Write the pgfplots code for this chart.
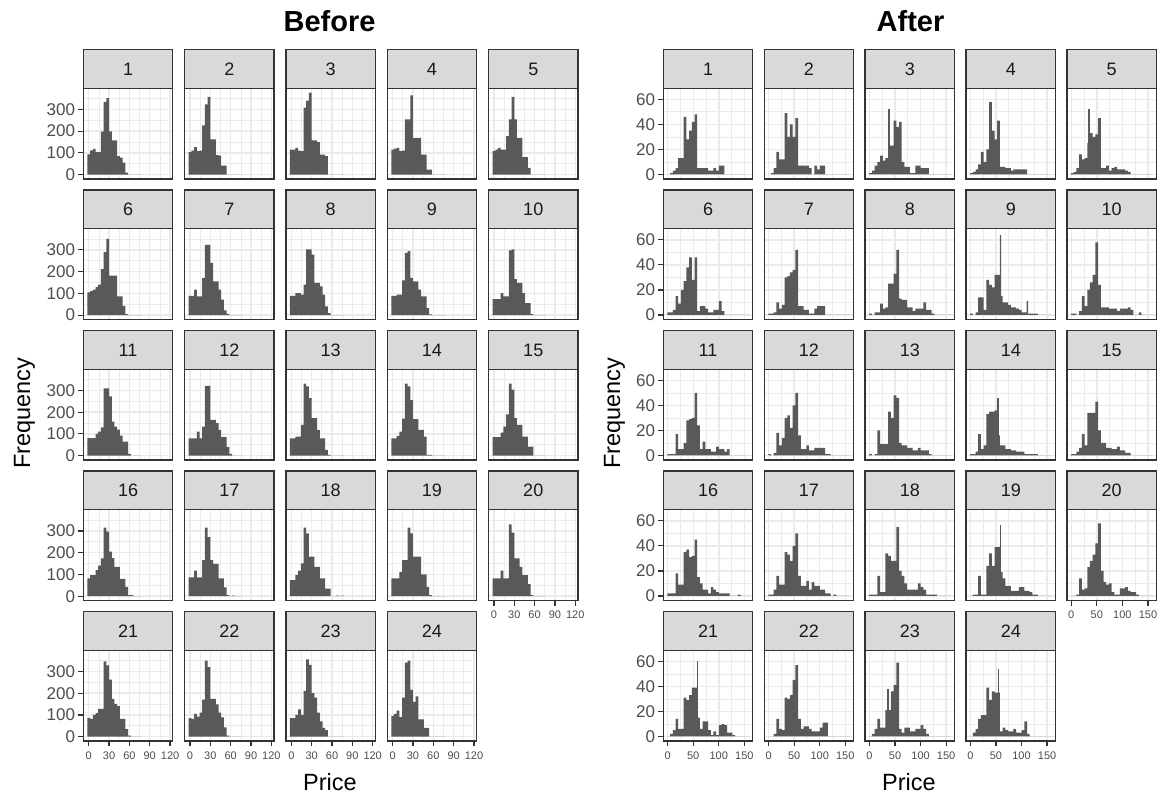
\documentclass[border=0pt]{standalone}
\usepackage{fontspec}
\setmainfont{Liberation Sans}
\usepackage{pgfplots}
\usepackage{pgfplotstable}
\pgfplotsset{compat=1.18}
\definecolor{barc}{HTML}{595959}
\definecolor{gridc}{HTML}{EBEBEB}
\definecolor{framec}{HTML}{333333}
\definecolor{stripc}{HTML}{D9D9D9}
\definecolor{tickc}{HTML}{4D4D4D}
\definecolor{stript}{HTML}{1A1A1A}

\pgfplotstableread{
edge p1 p2 p3 p4 p5 p6 p7 p8 p9 p10 p11 p12 p13 p14 p15 p16 p17 p18 p19 p20 p21 p22 p23 p24
-2 93 103 115 115 108 105 89 89 89 74 80 80 80 80 85 82 86 74 82 82 86 85 85 95
2 112 110 115 120 115 110 89 89 89 74 80 80 80 80 85 97 86 74 82 82 82 82 85 105
6 118 126 123 123 123 117 117 101 94 74 80 80 88 91 85 97 117 97 82 82 100 105 100 120
10 105 108 110 108 115 129 86 101 94 101 100 111 88 111 106 120 86 117 112 117 108 92 125 90
14 103 110 108 110 115 140 86 94 160 86 111 80 142 170 134 140 86 151 166 82 128 110 100 180
18 198 226 308 254 177 212 171 140 286 86 130 134 331 331 190 174 166 315 166 82 128 170 210 340
22 334 323 340 254 254 290 323 302 294 298 309 321 318 318 331 315 315 289 315 330 346 350 355 350
26 352 358 377 365 358 351 323 302 171 302 309 321 265 255 303 297 271 182 289 292 328 320 330 215
30 199 162 158 169 254 182 240 278 155 166 272 165 172 168 172 205 166 182 182 174 262 174 200 160
34 158 162 158 169 169 182 155 148 155 148 157 165 172 168 142 175 148 135 182 174 174 174 180 185
38 158 90 150 169 169 182 155 148 117 148 134 150 118 118 142 135 148 135 182 135 151 148 110 80
42 85 88 92 92 80 86 117 132 86 101 120 118 80 118 88 135 82 82 100 97 140 110 70 80
46 78 42 92 92 80 86 71 94 86 55 92 85 80 88 88 80 82 82 100 97 82 89 40 40
50 55 42 85 23 31 43 22 40 32 55 65 85 26 3 42 80 40 35 43 55 82 43 30 40
54 9 0 0 23 0 5 6 9 3 5 65 40 3 3 42 43 5 35 5 5 35 5 0 0
58 0 0 0 0 0 0 0 0 0 0 8 8 0 0 0 5 0 0 0 0 5 0 0 0
62 0 0 0 0 0 0 0 0 0 0 0 0 0 0 0 5 3 0 0 0 0 0 0 0
66 0 0 0 0 0 0 0 0 0 0 0 0 0 0 0 0 0 3 0 0 0 0 0 0
70 0 0 0 0 0 0 0 0 0 0 0 0 0 0 0 0 0 0 0 0 0 0 0 0
74 0 0 0 0 0 0 0 0 0 0 0 0 0 0 0 0 0 3 0 0 0 0 0 0
78 0 0 0 0 0 0 0 0 0 0 0 0 0 0 0 0 0 0 0 0 0 0 0 0
}\tblB

\pgfplotstableread{
edge a1 a2 a3 a4 a5 a6 a7 a8 a9 a10 a11 a12 a13 a14 a15 a16 a17 a18 a19 a20 a21 a22 a23 a24
-0.5 0 0 1 1 1 2 1 1 1 1 1 1 1 1 1 2 1 1 0 0 0 0 0 0
4.8 1 1 3 2 2 2 1 0 0 1 1 0 0 1 1 2 1 1 1 0 2 0 2 3
10.1 3 5 7 4 5 4 2 2 2 0 1 2 1 3 3 2 5 1 1 1 5 2 6 6
15.4 5 18 10 8 16 15 10 2 14 3 17 18 20 17 6 18 16 16 16 14 14 14 14 14
20.7 13 12 15 18 12 9 5 9 14 15 5 8 9 5 17 9 9 3 1 5 6 6 7 17
26.0 13 12 11 10 13 20 8 5 4 7 5 14 9 8 8 9 9 3 1 6 6 5 7 17
31.3 46 49 13 20 25 27 30 6 28 20 10 30 9 33 34 35 35 34 24 23 31 31 21 39
36.6 28 30 23 58 33 38 31 25 24 26 28 32 35 35 34 37 33 32 34 28 29 30 21 29
41.9 35 40 23 35 30 46 34 25 22 32 29 22 30 35 34 31 28 28 24 33 33 33 36 36
47.2 42 30 43 28 32 28 36 33 32 58 30 40 48 36 43 32 40 28 39 42 39 45 41 35
52.5 48 45 38 43 45 46 52 52 32 24 50 50 46 16 20 45 50 55 39 58 39 57 59 35
57.8 5 7 42 6 5 3 7 13 15 6 24 16 10 8 10 15 16 20 19 20 15 14 6 4
63.1 5 7 10 6 5 7 7 12 10 6 5 5 8 8 10 10 8 16 14 11 6 6 3 7
68.4 5 7 6 5 7 7 4 12 10 6 11 5 8 5 6 5 8 10 8 9 12 8 7 5
73.7 5 7 6 5 3 5 4 6 8 5 5 8 6 5 6 5 12 5 8 10 12 8 7 4
79.0 3 5 1 3 5 2 1 6 6 5 5 4 6 4 5 2 5 5 4 3 5 6 4 4
84.3 3 0 1 4 6 2 1 3 6 5 3 4 4 4 5 7 11 5 4 1 1 4 4 6
89.6 5 7 7 4 4 4 5 5 5 3 3 6 4 3 7 5 8 5 4 1 4 4 6 3
94.9 3 4 7 4 4 4 7 5 4 5 7 6 6 3 4 3 8 10 7 6 1 4 6 3
100.2 7 7 5 4 4 11 7 5 2 5 5 6 4 3 4 2 5 7 7 6 9 7 9 5
105.5 7 7 5 4 3 3 7 10 2 5 5 6 4 1 2 2 5 5 4 7 10 11 6 12
110.8 0 0 5 0 2 0 0 4 1 6 3 1 4 1 2 2 2 1 4 4 9 11 2 2
116.1 0 0 0 0 0 0 0 4 1 4 5 1 1 1 0 2 2 1 3 3 3 0 0 0
121.4 0 0 0 0 0 0 0 1 1 0 0 0 0 1 0 0 0 1 1 3 3 0 0 0
126.7 0 0 0 0 0 0 0 0 1 0 0 0 0 1 0 0 1 1 1 1 1 0 0 0
132.0 0 0 0 0 0 0 0 0 0 2 0 0 0 0 0 0 0 0 0 0 0 0 0 0
137.3 0 0 0 0 0 0 0 0 0 0 0 0 0 0 0 1 0 0 0 0 0 0 0 0
142.6 0 0 0 0 0 0 0 0 0 0 0 0 0 0 0 0 0 0 0 0 0 0 0 0
147.9 0 0 0 0 0 0 0 0 0 0 0 0 0 0 0 0 0 0 0 0 0 0 0 0
153.2 0 0 0 0 0 0 0 0 0 0 0 0 0 0 0 0 0 0 0 0 0 0 0 0
158.5 0 0 0 0 0 0 0 0 0 0 0 0 0 0 0 0 0 0 0 0 0 0 0 0
}\tblA

\pgfplotsset{
  common/.style={scale only axis, width=89.5pt, height=90.7pt,
    axis line style={draw=framec, line width=1.3pt},
    grid=both,
    major grid style={draw=gridc, line width=1.4pt},
    minor grid style={draw=gridc, line width=0.7pt},
    tick style={draw=framec, line width=1.2pt},
    major tick length=5pt, minor tick length=0pt,
    tick align=outside, tick pos=left,
    /pgf/number format/assume math mode=true,
    x tick label style={font=\fontsize{11}{12}\selectfont, text=tickc, inner sep=2pt, yshift=-3.5pt},
    y tick label style={font=\fontsize{17}{18}\selectfont, text=tickc, inner sep=3pt},
  },
  bef/.style={common, xmin=-8, xmax=124, ymin=-20, ymax=397,
    xtick={0,30,60,90,120}, minor xtick={15,45,75,105},
    ytick={0,100,200,300}, minor ytick={50,150,250,350}},
  aft/.style={common, xmin=-8.5, xmax=166.5, ymin=-3.6, ymax=68.8,
    xtick={0,50,100,150}, minor xtick={25,75,125},
    ytick={0,20,40,60}, minor ytick={10,30,50}},
  hx/.style={xmajorticks=false, xticklabels={}},
  hy/.style={ymajorticks=false, yticklabels={}},
  hist/.style={ybar interval, fill=barc, draw=none},
  spike/.style={ybar, bar width=2.6, fill=barc, draw=none},
}

% #1 style, #2 table, #3 left, #4 top, #5 label, #6 column, #7 opts, #8 extra plots
\newcommand{\pan}[8]{%
  \begin{axis}[#1, at={(#3pt,-#4pt)}, anchor=north west, #7]
    \addplot[hist] table[x=edge, y=#6] {#2};
    #8
  \end{axis}
  \draw[draw=framec, line width=1.3pt] (#3pt,-#4pt) rectangle ({(#3+89.5)*1pt},{-(#4+90.7)*1pt});
  \draw[fill=stripc, draw=framec, line width=1.3pt] (#3pt,-#4pt) rectangle ({(#3+89.5)*1pt},{-(#4-38.8)*1pt});
  \node[font=\fontsize{18}{20}\selectfont, text=stript] at ({(#3+44.75)*1pt},{-(#4-19.4)*1pt}) {#5};
}

\begin{document}
\begin{tikzpicture}
\path[use as bounding box] (0pt,0pt) rectangle (1161pt,-794pt);

% ---------------- Before ----------------
\pan{bef}{\tblB}{83.3}{88.3}{1}{p1}{hx}{}
\pan{bef}{\tblB}{184.6}{88.3}{2}{p2}{hx,hy}{}
\pan{bef}{\tblB}{285.9}{88.3}{3}{p3}{hx,hy}{}
\pan{bef}{\tblB}{387.2}{88.3}{4}{p4}{hx,hy}{}
\pan{bef}{\tblB}{488.5}{88.3}{5}{p5}{hx,hy}{}

\pan{bef}{\tblB}{83.3}{228.8}{6}{p6}{hx}{}
\pan{bef}{\tblB}{184.6}{228.8}{7}{p7}{hx,hy}{}
\pan{bef}{\tblB}{285.9}{228.8}{8}{p8}{hx,hy}{}
\pan{bef}{\tblB}{387.2}{228.8}{9}{p9}{hx,hy}{}
\pan{bef}{\tblB}{488.5}{228.8}{10}{p10}{hx,hy}{}

\pan{bef}{\tblB}{83.3}{369.3}{11}{p11}{hx}{}
\pan{bef}{\tblB}{184.6}{369.3}{12}{p12}{hx,hy}{}
\pan{bef}{\tblB}{285.9}{369.3}{13}{p13}{hx,hy}{}
\pan{bef}{\tblB}{387.2}{369.3}{14}{p14}{hx,hy}{}
\pan{bef}{\tblB}{488.5}{369.3}{15}{p15}{hx,hy}{}

\pan{bef}{\tblB}{83.3}{509.8}{16}{p16}{hx}{}
\pan{bef}{\tblB}{184.6}{509.8}{17}{p17}{hx,hy}{}
\pan{bef}{\tblB}{285.9}{509.8}{18}{p18}{hx,hy}{}
\pan{bef}{\tblB}{387.2}{509.8}{19}{p19}{hx,hy}{}
\pan{bef}{\tblB}{488.5}{509.8}{20}{p20}{hy}{}

\pan{bef}{\tblB}{83.3}{650.3}{21}{p21}{}{}
\pan{bef}{\tblB}{184.6}{650.3}{22}{p22}{hy}{}
\pan{bef}{\tblB}{285.9}{650.3}{23}{p23}{hy}{}
\pan{bef}{\tblB}{387.2}{650.3}{24}{p24}{hy}{}

% ---------------- After ----------------
\pan{aft}{\tblA}{663.3}{88.3}{1}{a1}{hx}{}
\pan{aft}{\tblA}{764.2}{88.3}{2}{a2}{hx,hy}{}
\pan{aft}{\tblA}{865.1}{88.3}{3}{a3}{hx,hy}{\addplot[spike] coordinates {(38,52)};}
\pan{aft}{\tblA}{966.0}{88.3}{4}{a4}{hx,hy}{}
\pan{aft}{\tblA}{1066.9}{88.3}{5}{a5}{hx,hy}{\addplot[spike] coordinates {(34.5,52)};}

\pan{aft}{\tblA}{663.3}{228.8}{6}{a6}{hx}{}
\pan{aft}{\tblA}{764.2}{228.8}{7}{a7}{hx,hy}{}
\pan{aft}{\tblA}{865.1}{228.8}{8}{a8}{hx,hy}{}
\pan{aft}{\tblA}{966.0}{228.8}{9}{a9}{hx,hy}{\addplot[spike] coordinates {(59,64) (111.5,11)};}
\pan{aft}{\tblA}{1066.9}{228.8}{10}{a10}{hx,hy}{}

\pan{aft}{\tblA}{663.3}{369.3}{11}{a11}{hx}{}
\pan{aft}{\tblA}{764.2}{369.3}{12}{a12}{hx,hy}{}
\pan{aft}{\tblA}{865.1}{369.3}{13}{a13}{hx,hy}{}
\pan{aft}{\tblA}{966.0}{369.3}{14}{a14}{hx,hy}{\addplot[spike] coordinates {(54,46)};}
\pan{aft}{\tblA}{1066.9}{369.3}{15}{a15}{hx,hy}{}

\pan{aft}{\tblA}{663.3}{509.8}{16}{a16}{hx}{}
\pan{aft}{\tblA}{764.2}{509.8}{17}{a17}{hx,hy}{}
\pan{aft}{\tblA}{865.1}{509.8}{18}{a18}{hx,hy}{}
\pan{aft}{\tblA}{966.0}{509.8}{19}{a19}{hx,hy}{\addplot[spike] coordinates {(59.3,57)};}
\pan{aft}{\tblA}{1066.9}{509.8}{20}{a20}{hy}{}

\pan{aft}{\tblA}{663.3}{650.3}{21}{a21}{}{\addplot[spike] coordinates {(57.8,60)};}
\pan{aft}{\tblA}{764.2}{650.3}{22}{a22}{hy}{}
\pan{aft}{\tblA}{865.1}{650.3}{23}{a23}{hy}{\addplot[spike] coordinates {(36.5,38)};}
\pan{aft}{\tblA}{966.0}{650.3}{24}{a24}{hy}{\addplot[spike] coordinates {(55.4,54)};}

% ---------------- titles and axis labels ----------------
\node[anchor=base, font=\fontsize{29}{31}\selectfont\bfseries] at (329.5pt,-32pt) {Before};
\node[anchor=base, font=\fontsize{29}{31}\selectfont\bfseries] at (910.5pt,-32pt) {After};
\node[anchor=base, rotate=90, font=\fontsize{23.5}{25}\selectfont] at (30pt,-413pt) {Frequency};
\node[anchor=base, rotate=90, font=\fontsize{23.5}{25}\selectfont] at (620pt,-413pt) {Frequency};
\node[anchor=base, font=\fontsize{23.5}{25}\selectfont] at (330pt,-790pt) {Price};
\node[anchor=base, font=\fontsize{23.5}{25}\selectfont] at (909pt,-790pt) {Price};
\end{tikzpicture}
\end{document}
